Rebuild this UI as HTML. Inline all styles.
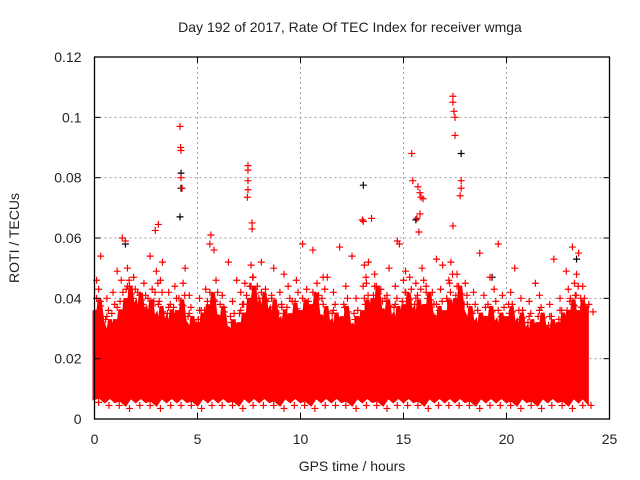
<!DOCTYPE html>
<html><head><meta charset="utf-8"><style>
body{margin:0;background:#fff}
svg{display:block}
text{font-family:"Liberation Sans",sans-serif;fill:#222}
</style></head><body>
<svg id="chart" width="640" height="480">
<text x="350" y="32" text-anchor="middle" font-size="14">Day 192 of 2017, Rate Of TEC Index for receiver wmga</text>
<text x="0" y="0" transform="translate(19,238) rotate(-90)" text-anchor="middle" font-size="14">ROTI / TECUs</text>
<text x="352" y="471" text-anchor="middle" font-size="14">GPS time / hours</text>
<g id="grid"></g><g id="band"></g><g id="marks"></g><g id="axes"></g>
</svg>
<script>
const xTicks=[0,5,10,15,20,25];
const yTicks=[0,0.02,0.04,0.06,0.08,0.1,0.12];
const yTickLabels=["0","0.02","0.04","0.06","0.08","0.1","0.12"];
const bandHours=[0,0.5,1,1.5,2,2.5,3,3.5,4,4.5,5,5.5,6,6.5,7,7.5,8,8.5,9,9.5,10,10.5,11,11.5,12,12.5,13,13.5,14,14.5,15,15.5,16,16.5,17,17.5,18,18.5,19,19.5,20,20.5,21,21.5,22,22.5,23,23.5,23.9];
const bandUpper=[.036,.030,.033,.040,.038,.036,.034,.033,.036,.031,.032,.038,.034,.030,.032,.040,.038,.036,.033,.035,.036,.038,.034,.032,.034,.031,.036,.040,.036,.034,.038,.036,.038,.034,.036,.040,.034,.032,.034,.032,.034,.032,.030,.032,.030,.032,.036,.036,.034];
const bandLower=[.007,.006,.006,.005,.006,.006,.005,.006,.006,.006,.005,.006,.006,.006,.005,.006,.006,.006,.005,.006,.006,.005,.006,.006,.006,.005,.006,.006,.005,.006,.006,.006,.005,.006,.006,.006,.006,.005,.006,.006,.006,.005,.006,.005,.006,.006,.005,.006,.006];
const outHours=[4.15,4.18,4.2,4.2,4.25,7.45,7.45,7.45,7.45,7.42,7.65,7.65,17.4,17.4,17.45,17.5,17.5,17.8,17.8,17.75,17.4,15.4,15.45,15.7,15.8,15.85,15.95,15.65,15.8,15.75,13.0,13.05,13.45,3.1,2.95,5.65,5.6,14.7,14.8,10.1,1.35,1.5,2.7,3.3,4.4,5.8,6.5,8.1,9.2,10.6,11.9,12.5,14.3,16.6,18.7,19.6,20.4,22.3,23.2,23.5,0.3,0.1,1.1,6.9,8.7,11.3,13.3,15.1,16.9,19.2,21.4,22.9];
const outValues=[.097,.090,.089,.080,.0765,.084,.0825,.079,.076,.0735,.065,.063,.107,.105,.102,.100,.094,.079,.0765,.074,.064,.088,.079,.077,.075,.0735,.073,.0665,.068,.062,.066,.0655,.0665,.0645,.0625,.061,.058,.059,.058,.058,.060,.059,.054,.052,.050,.056,.052,.052,.048,.056,.057,.054,.050,.053,.055,.058,.050,.053,.057,.055,.054,.046,.049,.046,.050,.047,.052,.049,.051,.047,.045,.049];
const midHours=[0.2,0.6,0.9,1.3,1.7,1.9,2.2,2.4,2.8,3.2,3.6,3.9,4.3,4.6,5.1,5.4,5.9,6.2,6.7,7.1,7.3,7.7,7.9,8.3,8.6,9.0,9.4,9.8,10.3,10.8,11.1,11.6,12.2,12.7,13.2,13.6,13.9,14.2,14.6,15.0,15.3,15.6,16.1,16.4,16.8,17.2,17.6,18.0,18.4,18.9,19.4,19.8,20.2,20.7,21.1,21.6,22.1,22.6,23.0,23.3,23.7,1.6,3.0,7.6,13.1,15.9,17.3,23.4];
const midValues=[.043,.040,.042,.046,.044,.047,.041,.045,.043,.046,.042,.044,.045,.041,.040,.043,.046,.041,.039,.042,.045,.047,.044,.043,.041,.042,.044,.046,.043,.045,.047,.042,.044,.040,.045,.048,.043,.041,.044,.046,.047,.045,.044,.042,.043,.046,.048,.045,.042,.041,.043,.041,.042,.040,.039,.041,.038,.040,.043,.045,.044,.050,.049,.051,.051,.050,.052,.048];
const blackHours=[4.2,4.2,4.15,13.05,17.8,15.6,1.5,19.3,23.4];
const blackValues=[.0815,.0765,.067,.0775,.088,.066,.058,.047,.053];
const X0=94.5,X1=609.5,Y0=419,Y1=57;
const xs=h=>X0+(h/25)*(X1-X0);
const ys=v=>Y0-(v/0.12)*(Y0-Y1);
const NS="http://www.w3.org/2000/svg";
function mk(tag,parent,attrs){const e=document.createElementNS(NS,tag);for(const k in attrs)e.setAttribute(k,attrs[k]);document.getElementById(parent).appendChild(e);return e;}
xTicks.forEach((t,i)=>{
 if(i>0&&i<xTicks.length-1){const g=mk('line','grid',{x1:xs(t),x2:xs(t),y1:Y0,y2:Y1,stroke:'#a0a0a0','stroke-dasharray':'2,3'});
 
 }
 const l=mk('text','axes',{x:xs(t),y:Y0+25,'text-anchor':'middle','font-size':'14'});l.textContent=String(t);
 
 
 mk('line','axes',{x1:xs(t),x2:xs(t),y1:Y0,y2:Y0-6,stroke:'#000'});
 mk('line','axes',{x1:xs(t),x2:xs(t),y1:Y1,y2:Y1+6,stroke:'#000'});
});
yTicks.forEach((t,i)=>{
 if(i>0&&i<yTicks.length-1){const g=mk('line','grid',{x1:X0,x2:X1,y1:ys(t),y2:ys(t),stroke:'#a0a0a0','stroke-dasharray':'2,3'});
 
 }
 const l=mk('text','axes',{x:X0-13,y:ys(t)+5,'text-anchor':'end','font-size':'14'});l.textContent=yTickLabels[i];
 
 
 mk('line','axes',{x1:X0,x2:X0+6,y1:ys(t),y2:ys(t),stroke:'#000'});
 mk('line','axes',{x1:X1,x2:X1-6,y1:ys(t),y2:ys(t),stroke:'#000'});
});
const fr=mk('rect','axes',{x:X0,y:Y1,width:X1-X0,height:Y0-Y1,fill:'none',stroke:'#000','stroke-width':'1.3'});


let pts=[];
bandHours.forEach((h,i)=>{
 const hn=i<bandHours.length-1?bandHours[i+1]:h;
 const u=bandUpper[i];
 pts.push([xs(h),ys(u)]);pts.push([xs(h+(hn-h)*0.25),ys(u*0.85)]);pts.push([xs(h+(hn-h)*0.5),ys(u*1.1)]);pts.push([xs(h+(hn-h)*0.75),ys(u*0.9)]);
});
for(let i=bandHours.length-1;i>=0;i--){
 const hp=i>0?bandHours[i-1]:bandHours[i];
 pts.push([xs(bandHours[i]),ys(bandLower[i])]);
 pts.push([xs((bandHours[i]+hp)/2),ys(bandLower[i]+0.0015)]);
}
const band=mk('polygon','band',{points:pts.map(p=>p.join(',')).join(' '),fill:'#ff0000',stroke:'#ff0000','stroke-width':'4','stroke-linejoin':'miter'});


function plus(h,v,c,name){
 const x=xs(h),y=ys(v);
 const p=mk('path','marks',{d:`M${x-3.5},${y}H${x+3.5}M${x},${y-3.5}V${y+3.5}`,stroke:c,'stroke-width':'1.2',fill:'none'});
 
 
}
blackHours.forEach((h,i)=>plus(h,blackValues[i],'#000','roti-point-black'));
midHours.forEach((h,i)=>{plus(h,midValues[i],'#ff0000','roti-point');plus(h+0.08,midValues[i]-0.004,'#ff0000','roti-point');plus(h-0.06,midValues[i]-0.007,'#ff0000','roti-point');});
outHours.forEach((h,i)=>plus(h,outValues[i],'#ff0000','roti-point'));
bandHours.forEach((h,i)=>{
 plus(h+0.1,bandUpper[i]+0.004,'#ff0000','roti-point');
 plus(h+0.3,bandUpper[i]+0.0015,'#ff0000','roti-point');
 plus(h+0.2,bandLower[i]-0.0015,'#ff0000','roti-point');
});
</script>
</body></html>
